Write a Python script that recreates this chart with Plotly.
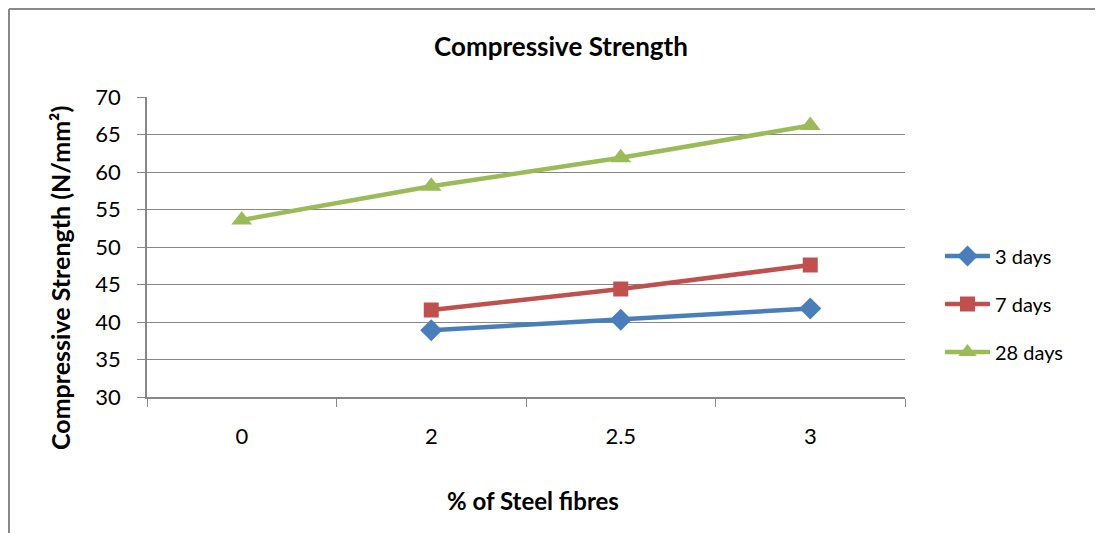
import plotly.graph_objects as go

categories = ["0", "2", "2.5", "3"]
days3 = [None, 38.9, 40.3, 41.8]
days7 = [None, 41.6, 44.4, 47.6]
days28 = [53.6, 58.1, 61.9, 66.2]

FONT = "Lato"
fig = go.Figure()
series = [
    ("3 days", days3, "#4A7EBB", "diamond", 17),
    ("7 days", days7, "#C0504D", "square", 15),
    ("28 days", days28, "#9BBB59", "triangle-up", 18),
]
for name, vals, color, sym, sz in series:
    fig.add_trace(go.Scatter(
        x=categories, y=vals, name=name, mode="lines+markers",
        line=dict(color=color, width=4.5),
        marker=dict(symbol=sym, size=sz, color=color),
        connectgaps=False, legendgroup=name,
    ))

# page is offset by 8px (body margin); plot area in page px: x 147-905, y 97-397
OFF = 8
W, H = 1103 - OFF, 533 - OFF
L, T = 147 - OFF, 97 - OFF
R = W - (905 - OFF)
B = H - (397 - OFF)

def px(xp):
    return (xp - 147) / 758

def py(yp):
    return (397 - yp) / 300

fig.update_layout(
    width=W, height=H,
    margin=dict(l=L, r=R, t=T, b=B),
    paper_bgcolor="white", plot_bgcolor="white",
    font=dict(family=FONT, size=22, color="black"),
    title=dict(text="<b>Compressive Strength</b>", x=(561 - OFF) / W, xanchor="center",
               y=1 - (47 - OFF) / H, yanchor="middle", font=dict(size=26, family=FONT)),
    showlegend=True,
    legend=dict(x=px(940), xanchor="left", y=py(304), yanchor="middle",
                font=dict(size=20), tracegroupgap=19, traceorder="grouped",
                itemwidth=45, bgcolor="rgba(0,0,0,0)"),
    xaxis=dict(type="category", range=[-0.5, 3.5], showgrid=False,
               showline=True, linecolor="#868686", linewidth=1.5,
               ticks="outside", tickson="boundaries", ticklen=8, tickcolor="#868686",
               ticklabelstandoff=19, fixedrange=True, tickfont=dict(size=22)),
    yaxis=dict(range=[30, 70], dtick=5, showgrid=True, gridcolor="#868686", gridwidth=1,
               showline=True, linecolor="#868686", linewidth=1.5,
               ticks="outside", ticklen=8, tickcolor="#868686",
               ticklabelstandoff=12, zeroline=False, tickfont=dict(size=22)),
)
fig.add_annotation(text="<b>% of Steel fibres</b>", xref="paper", yref="paper",
                   x=px(533), y=py(500), showarrow=False,
                   xanchor="center", yanchor="middle", font=dict(size=24, family=FONT))
fig.add_annotation(text="<b>Compressive Strength (N/mm²)</b>", xref="paper", yref="paper",
                   x=px(60), y=py(278), showarrow=False, textangle=-90,
                   xanchor="center", yanchor="middle", font=dict(size=25, family=FONT))
# outer chart border (top and left edges visible in the reference)
fig.add_shape(type="line", xref="paper", yref="paper",
              x0=px(9), x1=px(1110), y0=py(9), y1=py(9),
              line=dict(color="#888888", width=2), layer="below")
fig.add_shape(type="line", xref="paper", yref="paper",
              x0=px(9), x1=px(9), y0=py(9), y1=py(560),
              line=dict(color="#888888", width=2), layer="below")
fig.write_html("out.html")
